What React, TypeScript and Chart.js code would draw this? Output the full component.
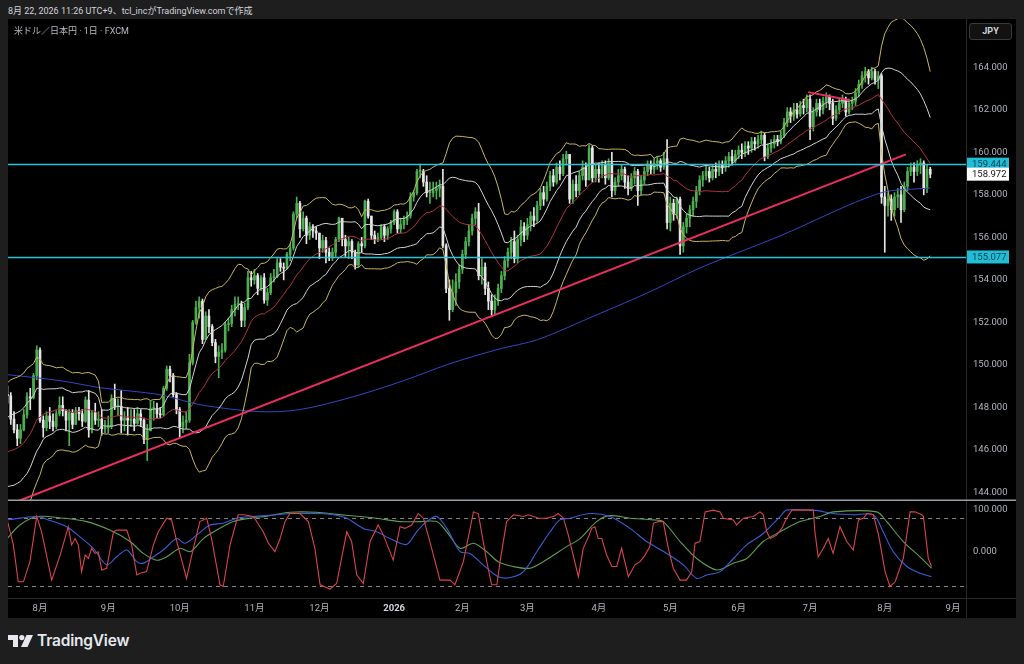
import React, { useEffect, useRef } from "react";
import { Chart, registerables } from "chart.js";

Chart.register(...registerables);

// ---------- DATA ----------
// closes before the visible window (used only for Bollinger warm-up)
const warmupCloses = [145.4, 146.1, 146.1, 145.0, 145.2, 144.4, 144.6, 144.0, 143.4, 143.6, 144.9, 144.5, 146.1, 146.6, 146.3, 146.2, 147.4, 147.7, 148.9, 148.6];

// daily bars, bar index -10 (18 Jul 2025) .. 274 (21 Aug 2026)
const FIRST_INDEX = -10;
const closes = [
  148.55, 147.45, 146.95, 146.55, 146.95, 147.65, 148.5, 148.45, 149.5, 150.7, 147.4,
  147.05, 147.6, 147.35, 147.1, 147.7, 148.1, 147.85, 147.4, 147.75, 147.2, 147.85, 147.7, 147.35, 148.35, 146.95, 147.75, 147.4, 147.45, 147.0, 147.05,
  147.1, 148.4, 148.05, 148.05, 147.4, 147.5, 147.4, 147.45, 147.25, 147.7, 147.4, 146.5, 146.9, 147.95, 147.95, 147.7, 147.65, 148.9, 149.8, 149.5, 148.6, 147.9,
  147.1, 147.3, 147.4, 150.1, 152.0, 152.7, 153.0, 151.2, 152.3, 151.8, 151.05, 150.4, 150.6, 150.7, 151.9, 151.95, 152.6, 152.85, 152.85, 152.1, 152.7, 154.1, 154.0,
  154.2, 153.6, 154.1, 153.05, 153.4, 154.1, 154.15, 154.8, 154.6, 154.55, 155.2, 155.5, 157.1, 157.6, 156.4, 156.9, 156.1, 156.5, 156.3, 156.2,
  155.5, 155.85, 155.3, 155.1, 155.3, 155.9, 156.9, 155.9, 155.6, 155.8, 155.3, 154.7, 155.7, 155.6, 157.7, 157.0, 156.1, 155.9, 156.0, 156.5, 156.1, 156.4, 156.7,
  157.2, 156.4, 156.6, 156.8, 157.0, 157.9, 158.1, 159.1, 159.1, 158.6, 158.1, 158.1, 158.2, 158.3, 158.4, 155.6, 153.6, 152.6, 153.4, 153.9, 154.5,
  155.2, 155.8, 156.3, 156.9, 157.2, 154.2, 154.6, 153.6, 153.0, 152.6, 153.0, 153.6, 154.2, 154.9, 155.3, 155.8, 155.0, 155.9, 156.5, 156.1,
  156.6, 157.0, 156.8, 157.5, 158.1, 157.8, 158.4, 158.9, 158.6, 159.3, 159.0, 159.7, 159.9, 157.8, 158.5, 158.2, 158.9, 159.3, 158.7, 160.2, 158.8, 159.2,
  159.0, 159.4, 158.8, 159.5, 158.2, 158.6, 158.9, 159.2, 158.6, 158.3, 158.8, 159.1, 158.2, 158.7, 159.1, 159.4, 159.2, 159.5, 159.6, 159.3, 159.7, 156.7,
  157.6, 157.1, 157.8, 155.6, 156.5, 156.9, 157.3, 157.7, 158.2, 158.7, 158.9, 159.1, 158.8, 159.2, 159.1, 159.4, 159.3, 159.6, 159.8, 159.6, 159.9,
  160.1, 160.0, 160.3, 160.2, 160.5, 160.4, 160.6, 160.8, 159.8, 160.2, 160.4, 160.6, 160.5, 160.8, 161.4, 161.9, 161.7, 162.0, 161.8, 162.2, 162.1, 162.5,
  161.2, 161.9, 162.3, 162.0, 162.4, 162.6, 162.3, 161.6, 162.0, 162.3, 162.5, 161.9, 162.3, 162.4, 162.8, 163.2, 163.6, 163.8, 163.5, 163.8, 163.4, 163.6, 157.9,
  157.5, 157.8, 157.3, 157.9, 158.0, 157.3, 158.4, 159.1, 159.3, 159.1, 159.4, 159.5, 158.3, 159.2, 158.972,
];
const highs = [
  149.0, 148.7, 147.8, 147.2, 147.2, 147.9, 148.7, 148.9, 149.6, 150.9, 150.8,
  147.6, 147.8, 148.0, 147.7, 147.85, 148.5, 148.5, 147.9, 147.9, 147.9, 148.0, 148.0, 147.9, 148.5, 148.8, 147.85, 148.2, 147.8, 147.9, 147.4,
  147.6, 148.6, 149.1, 148.4, 148.8, 147.8, 148.0, 147.9, 147.9, 148.0, 147.9, 147.5, 147.2, 148.3, 148.3, 148.2, 148.0, 149.0, 149.95, 149.95, 149.6, 148.7,
  148.0, 147.6, 147.8, 150.5, 152.1, 153.0, 153.2, 153.1, 152.5, 152.6, 151.9, 151.2, 150.9, 151.0, 152.0, 152.2, 152.8, 153.2, 153.2, 153.0, 152.9, 154.4, 154.4,
  154.5, 154.3, 154.2, 154.3, 153.6, 154.3, 154.5, 155.0, 155.0, 154.8, 155.3, 155.7, 157.2, 157.9, 157.7, 157.2, 157.0, 156.7, 156.6, 156.5,
  156.2, 156.1, 156.0, 155.5, 155.5, 156.0, 156.95, 156.8, 156.1, 156.0, 155.9, 155.4, 155.8, 156.0, 157.75, 157.8, 157.0, 156.3, 156.2, 156.6, 156.6, 156.5, 156.8,
  157.3, 157.3, 156.9, 157.0, 157.2, 158.1, 158.2, 159.2, 159.45, 159.2, 158.9, 158.6, 158.6, 158.6, 158.7, 159.2, 155.7, 154.0, 154.0, 154.3, 154.7,
  155.4, 156.0, 156.6, 157.1, 157.4, 157.6, 155.0, 154.8, 153.9, 153.3, 153.3, 153.8, 154.4, 155.1, 155.5, 156.0, 156.3, 156.1, 156.8, 156.7,
  156.9, 157.2, 157.4, 157.7, 158.3, 158.4, 158.6, 159.1, 159.2, 159.5, 159.6, 159.9, 160.05, 159.9, 158.7, 158.9, 159.1, 159.6, 159.5, 160.35, 160.3, 159.4,
  159.5, 159.6, 159.6, 159.7, 160.0, 158.8, 159.2, 159.4, 159.3, 158.9, 159.0, 159.3, 159.2, 158.9, 159.3, 159.6, 159.6, 159.7, 159.8, 159.7, 160.0, 160.6,
  157.9, 157.8, 157.9, 157.9, 156.7, 157.1, 157.5, 157.9, 158.4, 158.9, 159.1, 159.4, 159.3, 159.4, 159.5, 159.6, 159.6, 159.8, 160.0, 160.1, 160.1,
  160.3, 160.4, 160.5, 160.5, 160.7, 160.7, 160.8, 161.0, 160.9, 160.4, 160.6, 160.8, 160.8, 161.0, 161.6, 162.1, 162.1, 162.3, 162.3, 162.4, 162.5, 162.7,
  162.7, 162.1, 162.5, 162.5, 162.6, 162.8, 162.7, 162.5, 162.2, 162.5, 162.7, 162.6, 162.5, 162.6, 163.0, 163.4, 163.8, 164.0, 163.9, 164.0, 163.9, 163.8, 163.7,
  158.4, 158.1, 158.0, 158.1, 158.3, 158.4, 158.6, 159.3, 159.5, 159.5, 159.6, 159.7, 159.6, 159.4, 159.3,
];
const lows = [
  148.2, 147.2, 146.8, 146.2, 146.3, 146.9, 147.5, 147.9, 148.4, 149.3, 147.3,
  146.6, 146.9, 147.0, 146.9, 147.0, 147.6, 147.6, 146.9, 146.2, 147.0, 147.2, 147.4, 147.1, 147.3, 146.6, 146.8, 147.2, 147.1, 146.7, 146.8,
  146.8, 147.0, 147.9, 147.6, 146.8, 146.9, 146.7, 147.1, 146.9, 147.2, 147.1, 146.3, 145.5, 146.9, 147.4, 147.5, 147.5, 147.6, 148.8, 149.2, 148.5, 147.7,
  146.6, 146.8, 147.0, 147.3, 150.0, 151.9, 152.2, 151.0, 151.6, 151.5, 150.9, 150.1, 149.4, 150.3, 150.6, 151.6, 151.8, 152.3, 152.6, 151.8, 151.8, 152.6, 153.7,
  153.8, 153.3, 153.5, 152.9, 152.8, 153.3, 153.9, 154.1, 154.4, 154.0, 154.5, 154.9, 155.4, 156.9, 156.0, 156.3, 155.7, 155.9, 156.0, 155.9,
  155.0, 155.3, 154.8, 154.9, 154.9, 155.1, 155.8, 155.6, 155.1, 155.0, 155.0, 154.5, 154.6, 155.3, 155.5, 156.9, 155.9, 155.7, 155.8, 155.9, 155.8, 155.9, 156.2,
  156.6, 156.2, 156.2, 156.4, 156.6, 156.9, 157.7, 158.0, 158.8, 158.4, 157.9, 157.6, 157.9, 157.8, 157.9, 155.5, 153.4, 152.1, 152.5, 152.8, 153.6,
  154.3, 155.0, 155.6, 156.1, 156.6, 154.0, 153.8, 153.3, 152.6, 152.3, 152.4, 152.8, 153.4, 154.0, 154.6, 155.0, 154.8, 154.8, 155.6, 155.8,
  155.9, 156.3, 156.5, 156.7, 157.3, 157.5, 157.7, 158.2, 158.4, 158.5, 158.7, 158.9, 159.4, 157.6, 157.6, 157.9, 158.0, 158.7, 158.4, 159.0, 158.6, 158.6,
  158.6, 158.8, 158.5, 158.7, 157.9, 158.0, 158.4, 158.7, 158.3, 158.0, 158.2, 158.5, 157.5, 158.0, 158.5, 158.9, 159.0, 159.0, 159.2, 159.1, 159.2, 156.4,
  156.3, 156.8, 156.9, 155.2, 155.3, 156.2, 156.5, 157.0, 157.4, 158.0, 158.4, 158.7, 158.6, 158.7, 158.8, 158.9, 159.0, 159.1, 159.3, 159.4, 159.5,
  159.7, 159.7, 159.8, 159.9, 160.0, 160.1, 160.2, 160.4, 159.6, 159.7, 160.0, 160.2, 160.3, 160.4, 160.7, 161.2, 161.4, 161.5, 161.6, 161.7, 161.8, 161.9,
  160.6, 161.0, 161.7, 161.7, 161.8, 162.1, 162.0, 161.3, 161.5, 161.8, 162.1, 161.7, 161.8, 162.0, 162.2, 162.6, 163.0, 163.3, 163.2, 163.4, 163.2, 163.0, 157.6,
  155.3, 157.0, 156.8, 157.0, 157.4, 156.7, 157.2, 158.2, 158.9, 158.6, 158.9, 159.0, 158.0, 158.1, 158.8,
];

// long moving average (blue), read at sample bars
const maIdx = [-9.85, 6.2, 18.5, 36.9, 49.2, 67.7, 80, 95.4, 110.8, 126.2, 141.6, 153, 171.4, 187.7, 203.1, 227.8, 258.5, 274];
const maVal = [149.54, 149.26, 148.93, 148.6, 148.13, 147.8, 147.9, 148.46, 149.2, 150.06, 150.76, 151.18, 152.36, 153.44, 154.56, 156.07, 158.08, 158.32];

// drawn trend lines [barIndex, price]
const trendLong = [[-10, 143.4], [266.5, 159.9]];
const trendShort = [[236.4, 162.83], [249.3, 162.45]];
// horizontal levels and last price
const levels = [159.444, 155.077];
const lastPrice = 158.972;

const priceTicks = [144, 146, 148, 150, 152, 154, 156, 158, 160, 162, 164];
const oscTicks = [0, 100];
const oscLevels = [80, -80];

const monthTickIdx = [0, 21, 43, 66, 86, 109, 130, 150, 172, 194, 215, 237, 260, 281];
const monthTickLabels = ["8月", "9月", "10月", "11月", "12月", "2026", "2月", "3月", "4月", "5月", "6月", "7月", "8月", "9月"];

// RCI oscillator lines
const rciShortIdx = [-10.1, -8.2, -6.7, -5.1, -3.1, -1, 0.5, 3.6, 6.2, 8.7, 9.7, 10.8, 11.8, 12.8, 13.9, 14.9, 15.9, 16.9, 17.9, 19, 20.5, 22.6, 23.6, 26.7, 28.2, 29.8, 30.8, 32.8, 34.9, 36.4, 39, 40.5, 42.1, 45.1, 47.2, 49.2, 51.3, 52.8, 55.4, 56.4, 58.5, 61, 62.6, 65.7, 68.7, 70.3, 72.3, 73.9, 75.4, 76.9, 80, 82.6, 84.6, 86.2, 89.3, 91.3, 94.4, 95.9, 97.5, 99.5, 101.6, 104.1, 105.7, 108.7, 110.8, 112.3, 114.4, 116.4, 118, 120, 123.1, 126.2, 127.7, 130.3, 133.4, 134.9, 137.5, 139, 140.6, 141.6, 143.6, 145.7, 148.8, 150.3, 153.4, 155.9, 158, 159.5, 161.1, 162.6, 165.7, 167.2, 168.8, 169.8, 170.8, 171.8, 172.9, 174.4, 176, 177.5, 179, 181.1, 183.1, 184.7, 186.2, 187.7, 188.8, 190.3, 191.8, 193.4, 194.9, 197, 199, 200.6, 201.6, 203.1, 204.7, 207.2, 209.3, 210.3, 213.4, 214.4, 216.5, 219.5, 221.6, 222.6, 223.7, 224.7, 226.7, 228.3, 229.8, 231.4, 238, 238.5, 239.5, 241.1, 242.6, 244.1, 246.2, 248.3, 250.3, 251.9, 253.4, 254.5, 256.5, 258.1, 260.1, 261.6, 263.2, 265.7, 267.8, 269.3, 271.4, 271.9, 273.4, 274.4];
const rciShortVal = [75, 16, -71, -71, -23.5, 83, 47, -67, -8, 59, 16, 31, 16, -47, -8, -16, 8, -4, 0, -43, -39, 47, 51, 51, 16, -55, -51, -47, 16, 47, 79, 75, 24, -63, 8, 71, 79, 31, -78, -82, 16, 87, 87, 83, 47, 20, 0, 31, 71, 90, 90, 71, 8, -78, -88, -75, 47, 24, -55, -75, 24, 63, 39, -20, 59, 55, 63, 90, 79, 24, -67, -67, -78, -23.5, 94, 90, -23.5, -78, -78, -23.5, 71, 87, 83, 87, 79, 79, 83, 90, 79, 39, -59, 8, 35, 55, 59, 31, 31, -8, -35, -35, 8, -59, -31, -23.5, -8, 12, 67, 71, 71, 8, -39, -67, -67, -47, 20, 24, 94, 98, 94, 79, 75, 63, 79, 83, 94, 87, 47, 31, 39, 55, 79, 98, 98, 47, -12, 8, 31, -4, 59, 24, 4, 75, 79, 90, 87, 39, -47, -82, -71, -16, 94, 94, 87, 83, -16, -35];
const rciMidIdx = [-10.1, -1, 2.5, 8.2, 12.3, 16.4, 20.5, 23.6, 26.7, 29.8, 31.8, 34.9, 37.9, 42.1, 44.6, 48.2, 52.3, 56.4, 60.5, 65.7, 72.8, 76.9, 82.1, 86.2, 90.3, 94.4, 99.5, 103.6, 107.7, 112.8, 115.9, 119, 122.1, 125.2, 129.3, 132.3, 136.4, 141, 144.7, 148.8, 152.9, 157, 160, 163.1, 169.3, 175.4, 181.6, 186.7, 192.9, 198, 202.1, 205.2, 209.3, 213.4, 217.5, 222.6, 227.8, 229.8, 238, 244.2, 250.3, 256.5, 259.5, 262.6, 266.8, 270.9, 274.4];
const rciMidVal = [75, 83, 75, 59, 35, 8, -31, -12, 4, -23.5, -27, -12, 4, 31, 20, 39, 63, 67, 79, 83, 87, 90, 90, 90, 87, 79, 55, 47, 31, 17, 47, 71, 83, 55, 0, -4, -31, -59, -61, -47, 0, 47, 75, 79, 90, 83, 55, 24, -4, -31, -63, -55, -47, -16, 16, 43, 83, 98, 98, 90, 87, 87, 47, 0, -35, -51, -59];
const rciLongIdx = [-10.1, -6.2, -1, 7.2, 14.4, 21.5, 27.7, 31.8, 35.9, 39, 43.1, 46.2, 50.3, 54.4, 59.5, 64.6, 69.8, 76.9, 85.1, 91.3, 98.5, 103.6, 110.8, 117, 122.1, 125.2, 129.3, 133.4, 137.5, 141, 145.7, 150.8, 154.9, 162.1, 166.2, 171.3, 175.4, 181.6, 188.8, 191.8, 197, 202.1, 208.3, 213.4, 217.5, 222.6, 227.8, 233.9, 240.1, 244.2, 257.5, 260.6, 265.7, 270.8, 274.4];
const rciLongVal = [31, 63, 83, 79, 71, 51, 24, -4, -20, -12, 8, 0, 31, 51, 71, 79, 84, 93, 93, 88, 83, 79, 71, 71, 71, 47, 8, 20, 0, -23.5, -35, -39, -23.5, 12, 31, 71, 85, 79, 75, 71, 24, -16, -43, -27, -16, 24, 47, 71, 83, 94, 94, 71, 24, -12, -39];

// ---------- STYLE ----------
const X_MIN = -9.85;
const X_MAX = 285.0;
const P_MIN = 143.6;
const P_MAX = 166.27;
const O_MIN = -109.2;
const O_MAX = 119.6;
const FONT = "Roboto, 'Noto Sans CJK JP', sans-serif";
const AXIS_TEXT = "#b2b5be";
const UP = "#4caf50";
const DOWN = "#e6e6e6";
const AXIS_LINE = "#2a2a2a";

function pts(xs: number[], ys: number[]) {
  return xs.map((x, i) => ({ x, y: ys[i] }));
}

export default function App() {
  const mainRef = useRef<HTMLCanvasElement | null>(null);
  const oscRef = useRef<HTMLCanvasElement | null>(null);

  useEffect(() => {
    document.body.style.margin = "0";
    document.body.style.background = "#1e1e1e";

    const xs = closes.map((_, i) => FIRST_INDEX + i);
    const opens = closes.map((_, i) => (i === 0 ? warmupCloses[warmupCloses.length - 1] : closes[i - 1]));
    const colors = closes.map((c, i) => (c >= opens[i] ? UP : DOWN));

    const all = warmupCloses.concat(closes);
    const mid: number[] = [], u1: number[] = [], d1: number[] = [], u2: number[] = [], d2: number[] = [];
    for (let i = 0; i < closes.length; i++) {
      const end = i + warmupCloses.length;
      const win = all.slice(end - 19, end + 1);
      const m = win.reduce((a, b) => a + b, 0) / win.length;
      const sd = Math.sqrt(win.reduce((a, b) => a + (b - m) * (b - m), 0) / win.length);
      mid.push(m); u1.push(m + sd); d1.push(m - sd); u2.push(m + 2 * sd); d2.push(m - 2 * sd);
    }

    const line = (data: any[], color: string, width = 1, order = 5, tension = 0) => ({
      type: "line", data, borderColor: color, borderWidth: width, pointRadius: 0,
      fill: false, tension, order,
    });

    const yAfterFit = (s: any) => { s.width = 50; s.paddingTop = 0; s.paddingBottom = 0; };

    const mainPlugin = {
      id: "mainOverlay",
      afterDatasetsDraw(chart: any) {
        const { ctx, chartArea, scales } = chart;
        ctx.save();
        ctx.strokeStyle = "#2cc3da";
        ctx.lineWidth = 1.5;
        levels.forEach((v) => {
          const py = Math.round(scales.y.getPixelForValue(v)) + 0.5;
          ctx.beginPath(); ctx.moveTo(chartArea.left, py); ctx.lineTo(chartArea.right, py); ctx.stroke();
        });
        ctx.restore();
      },
      afterDraw(chart: any) {
        const { ctx, chartArea, scales, width, height } = chart;
        ctx.save();
        const tags = [
          { v: levels[0], bg: "#22bcd4", fg: "#0b3f57" },
          { v: lastPrice, bg: "#ffffff", fg: "#111111" },
          { v: levels[1], bg: "#22bcd4", fg: "#0b3f57" },
        ];
        ctx.font = "9.5px " + FONT;
        ctx.textBaseline = "middle";
        ctx.textAlign = "left";
        tags.forEach((t) => {
          const py = scales.y.getPixelForValue(t.v);
          ctx.fillStyle = t.bg;
          ctx.fillRect(chartArea.right + 1, py - 6.5, 42, 13);
          ctx.fillStyle = t.fg;
          ctx.fillText(t.v.toFixed(3), chartArea.right + 6, py + 0.5);
        });
        ctx.strokeStyle = "#9a9da6";
        ctx.lineWidth = 1.5;
        ctx.beginPath(); ctx.moveTo(0, height - 0.75); ctx.lineTo(width, height - 0.75); ctx.stroke();
        ctx.restore();
      },
    };

    const main = new Chart(mainRef.current as HTMLCanvasElement, {
      type: "bar",
      data: {
        datasets: [
          { type: "bar", data: xs.map((x, i) => ({ x, y: [lows[i], highs[i]] })), backgroundColor: colors, barThickness: 1, grouped: false, order: 20, borderWidth: 0 },
          { type: "bar", data: xs.map((x, i) => ({ x, y: [Math.min(opens[i], closes[i]), Math.max(opens[i], closes[i])] })), backgroundColor: colors, barThickness: 2, grouped: false, order: 19, minBarLength: 1, borderWidth: 0 },
          line(pts(xs, u2), "#c9b65c"),
          line(pts(xs, d2), "#c9b65c"),
          line(pts(xs, u1), "#d2d2d2"),
          line(pts(xs, d1), "#d2d2d2"),
          line(pts(xs, mid), "#b3323d"),
          line(pts(maIdx, maVal), "#3446c4", 1, 5, 0.3),
          line(trendLong.map((p) => ({ x: p[0], y: p[1] })), "#ee2d62", 2, 2),
          line(trendShort.map((p) => ({ x: p[0], y: p[1] })), "#ee2d62", 2, 2),
        ] as any,
      },
      options: {
        animation: false,
        responsive: false,
        maintainAspectRatio: false,
        events: [],
        layout: { padding: 0 },
        plugins: { legend: { display: false }, tooltip: { enabled: false } },
        scales: {
          x: { type: "linear", min: X_MIN, max: X_MAX, display: false, offset: false },
          y: {
            type: "linear", position: "right", min: P_MIN, max: P_MAX,
            grid: { display: false, drawTicks: false },
            border: { display: true, color: AXIS_LINE },
            ticks: { color: AXIS_TEXT, font: { family: FONT, size: 9.5 }, padding: 7, callback: (v: any) => Number(v).toFixed(3) },
            afterBuildTicks: (s: any) => { s.ticks = priceTicks.map((v) => ({ value: v })); },
            afterFit: yAfterFit,
          },
        },
      } as any,
      plugins: [mainPlugin],
    });

    const oscPlugin = {
      id: "oscOverlay",
      beforeDatasetsDraw(chart: any) {
        const { ctx, chartArea, scales } = chart;
        ctx.save();
        ctx.strokeStyle = "#80838c";
        ctx.lineWidth = 1;
        ctx.setLineDash([4, 4]);
        oscLevels.forEach((v) => {
          const py = Math.round(scales.y.getPixelForValue(v)) + 0.5;
          ctx.beginPath(); ctx.moveTo(chartArea.left, py); ctx.lineTo(chartArea.right, py); ctx.stroke();
        });
        ctx.restore();
      },
      afterDraw(chart: any) {
        const { ctx, chartArea, width, height } = chart;
        ctx.save();
        ctx.strokeStyle = AXIS_LINE;
        ctx.lineWidth = 1;
        ctx.beginPath();
        ctx.moveTo(0, chartArea.bottom + 0.5); ctx.lineTo(width, chartArea.bottom + 0.5);
        ctx.moveTo(chartArea.right + 0.5, chartArea.bottom); ctx.lineTo(chartArea.right + 0.5, height);
        ctx.stroke();
        ctx.restore();
      },
    };

    const osc = new Chart(oscRef.current as HTMLCanvasElement, {
      type: "line",
      data: {
        datasets: [
          line(pts(rciLongIdx, rciLongVal), "#5f9f4f", 1.1, 3, 0.3),
          line(pts(rciMidIdx, rciMidVal), "#3b5fd6", 1.1, 2, 0.3),
          line(pts(rciShortIdx, rciShortVal), "#d9444f", 1.1, 1, 0),
        ] as any,
      },
      options: {
        animation: false,
        responsive: false,
        maintainAspectRatio: false,
        events: [],
        layout: { padding: 0 },
        plugins: { legend: { display: false }, tooltip: { enabled: false } },
        scales: {
          x: {
            type: "linear", min: X_MIN, max: X_MAX, offset: false,
            grid: { display: false, drawTicks: false },
            border: { display: false },
            ticks: {
              autoSkip: false, maxRotation: 0, padding: 5,
              color: (c: any) => (c.tick && c.tick.value === 109 ? "#d1d4dc" : AXIS_TEXT),
              font: (c: any) => ({ family: FONT, size: 9.5, weight: c.tick && c.tick.value === 109 ? "bold" : "normal" }),
              callback: (v: any) => { const k = monthTickIdx.indexOf(Number(v)); return k >= 0 ? monthTickLabels[k] : ""; },
            },
            afterBuildTicks: (s: any) => { s.ticks = monthTickIdx.map((v) => ({ value: v })); },
            afterFit: (s: any) => { s.height = 20; s.paddingLeft = 0; s.paddingRight = 0; },
          },
          y: {
            type: "linear", position: "right", min: O_MIN, max: O_MAX,
            grid: { display: false, drawTicks: false },
            border: { display: true, color: AXIS_LINE },
            ticks: { color: AXIS_TEXT, font: { family: FONT, size: 9.5 }, padding: 7, callback: (v: any) => Number(v).toFixed(3) },
            afterBuildTicks: (s: any) => { s.ticks = oscTicks.map((v) => ({ value: v })); },
            afterFit: yAfterFit,
          },
        },
      } as any,
      plugins: [oscPlugin],
    });

    return () => { main.destroy(); osc.destroy(); };
  }, []);

  return (
    <div style={{ position: "relative", width: 1024, height: 664, background: "#1e1e1e", fontFamily: FONT, overflow: "hidden" }}>
      <div style={{ position: "absolute", left: 8, top: 5, fontSize: 9, lineHeight: "12px", color: "#d1d4dc", whiteSpace: "nowrap" }}>
        8月 22, 2026 11:26 UTC+9、tcl_incがTradingView.comで作成
      </div>
      <div style={{ position: "absolute", left: 8, top: 19, width: 1008, height: 599, background: "#000" }}>
        <canvas ref={mainRef} width={1008} height={482} style={{ position: "absolute", left: 0, top: 0, width: 1008, height: 482 }} />
        <canvas ref={oscRef} width={1008} height={117} style={{ position: "absolute", left: 0, top: 482, width: 1008, height: 117 }} />
        <div style={{ position: "absolute", left: 6, top: 7, fontSize: 9, lineHeight: "11px", color: "#b8bbc2", whiteSpace: "nowrap" }}>
          米ドル／日本円 · 1日 · FXCM
        </div>
        <div style={{ position: "absolute", left: 961, top: 4, width: 43, height: 17, boxSizing: "border-box", border: "1px solid #3a3a3a", borderRadius: 3, background: "#121212", color: "#d1d4dc", fontSize: 9, fontWeight: 700, lineHeight: "15px", textAlign: "center" }}>
          JPY
        </div>
      </div>
      <svg style={{ position: "absolute", left: 8, top: 635 }} width={25} height={13} viewBox="0 0 25 13">
        <path d="M0 0 H10 V12 H5 V5 H0 Z" fill="#e6e8ee" />
        <circle cx="13.8" cy="2.6" r="2.6" fill="#e6e8ee" />
        <path d="M18.5 0 H25 L19.5 12 H13 Z" fill="#e6e8ee" />
      </svg>
      <div style={{ position: "absolute", left: 37, top: 631, fontSize: 15.5, fontWeight: 600, lineHeight: "20px", color: "#e6e8ee", fontFamily: "Inter, 'Noto Sans', sans-serif", whiteSpace: "nowrap", letterSpacing: "-0.2px" }}>
        TradingView
      </div>
    </div>
  );
}
